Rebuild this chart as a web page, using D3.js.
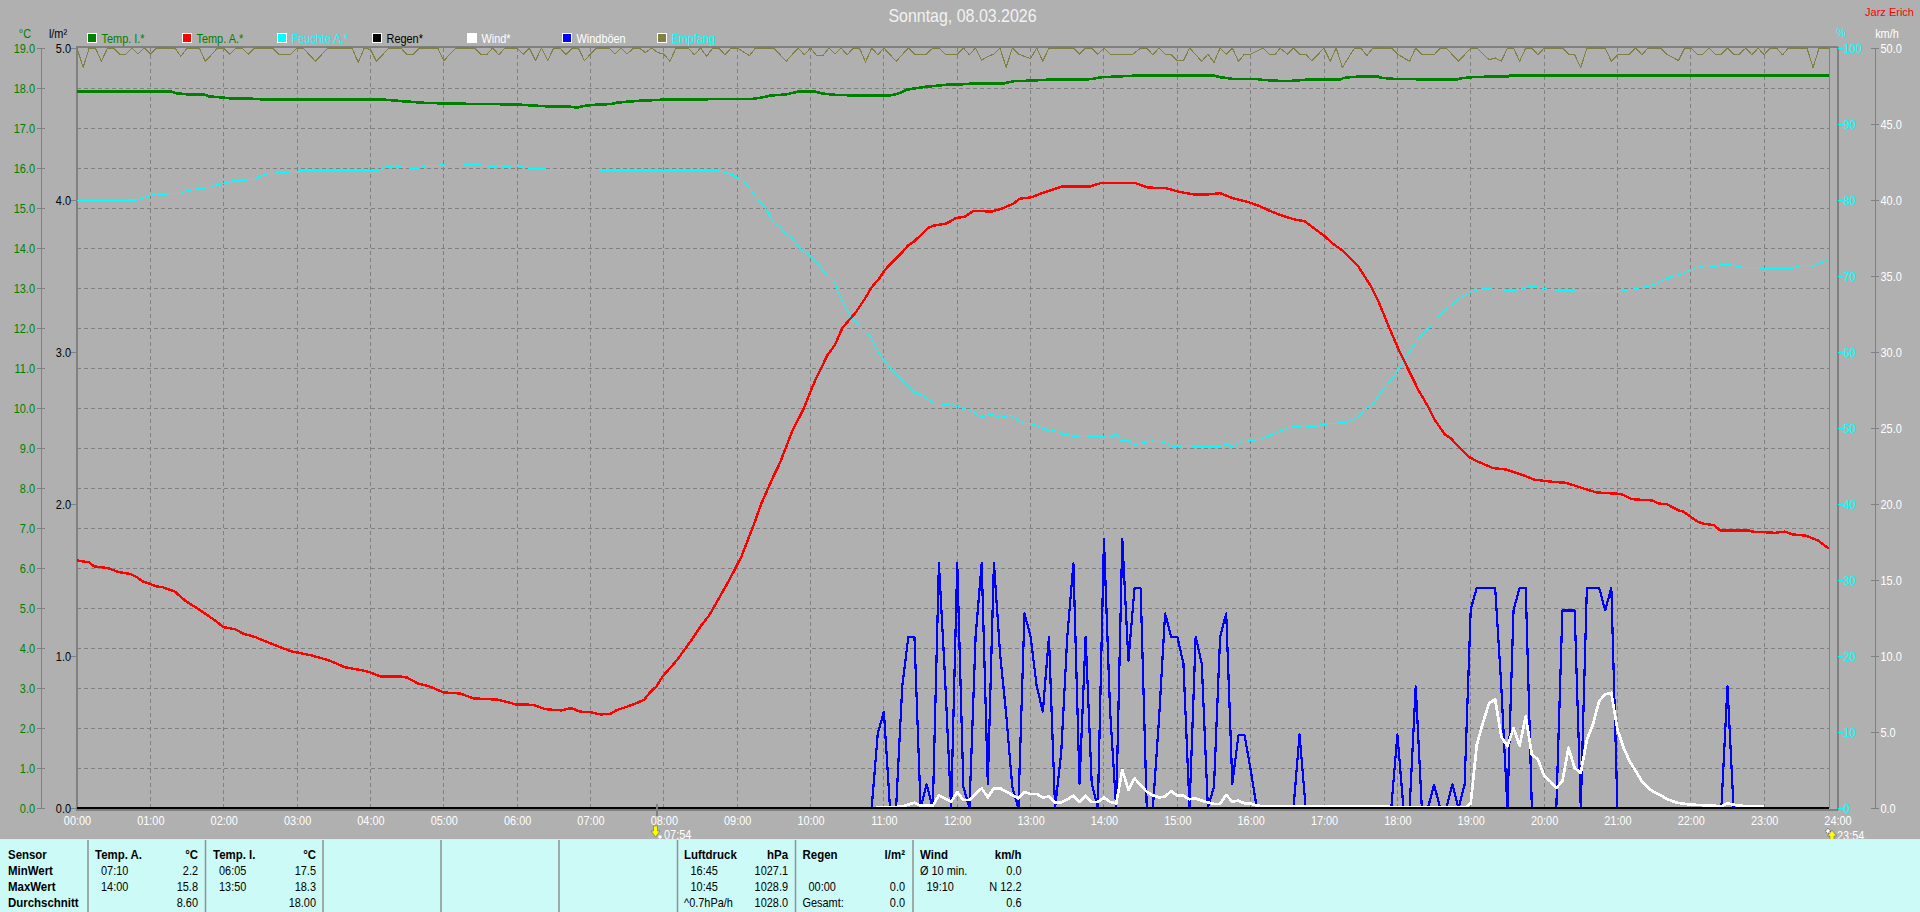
<!DOCTYPE html>
<html><head><meta charset="utf-8">
<script src="https://cdn.jsdelivr.net/npm/d3@7/dist/d3.min.js"></script>
<style>
html,body{margin:0;padding:0;background:#b0b0b0;overflow:hidden}
svg{display:block}
text{font-family:"Liberation Sans",Arial,sans-serif}
</style></head><body><script>
const title="Sonntag, 08.03.2026", author="Jarz Erich";
const legendNames=["Temp. I.*","Temp. A.*","Feuchte A.*","Regen*","Wind*","Windböen","Empfang"];
const legendSwatch=["#008000","#ff0000","#00ffff","#000000","#ffffff","#0000ff","#808040"];
const legendText=["#008000","#008000","#00ffff","#000000","#ffffff","#ffffff","#00ffff"];
const tempTicks=d3.range(0,20), rainTicks=[0,1,2,3,4,5], humTicks=d3.range(0,101,10), windTicks=d3.range(0,51,5), hourTicks=d3.range(0,1441,60);

const tempAT=[0,10,14,25,34,44,49,54,60,65,70,80,89,100,111,120,129,136,146,154,166,176,180,191,204,211,219,226,234,240,248,264,270,279,288,300,314,324,344,359,373,383,396,403,406,411,419,428,436,441,456,464,469,474,479,490,498,506,510,517,534,543.5,553.5,560,569,575,585,594,604,614,620,626,637,644,650,656,661,674,680,685,696,701,711,719,726,733.5,748,756,766,771,781,791,806,829,838,865,876,890,901,913,925,935,945,958,968,977,984,995,1004,1020,1027,1035,1048,1058,1065,1074,1081,1089,1097,1105,1110,1119,1123.5,1131,1139,1145,1158,1169,1182,1192,1208,1218,1231,1243,1263,1272,1288,1294,1300,1310,1314,1325,1330,1339,1344,1368,1370,1389,1397,1403,1414,1424,1433];
const tempAV=[6.19,6.14,6.04,6.0,5.9,5.85,5.77,5.66,5.6,5.54,5.52,5.41,5.17,4.96,4.73,4.52,4.47,4.36,4.27,4.17,4.02,3.91,3.89,3.82,3.71,3.63,3.52,3.48,3.44,3.39,3.29,3.29,3.26,3.11,3.04,2.89,2.86,2.74,2.71,2.59,2.58,2.47,2.44,2.49,2.48,2.41,2.4,2.34,2.35,2.44,2.6,2.71,2.9,3.04,3.29,3.67,4.0,4.35,4.54,4.81,5.725,6.29,7.08,7.63,8.25,8.63,9.42,9.96,10.71,11.33,11.58,12.0,12.39,12.71,13.02,13.23,13.46,13.86,14.07,14.17,14.5,14.56,14.61,14.75,14.78,14.93,14.91,14.98,15.11,15.23,15.27,15.39,15.54,15.54,15.63,15.63,15.51,15.5,15.41,15.34,15.34,15.37,15.25,15.15,15.04,14.91,14.83,14.72,14.67,14.31,14.11,13.94,13.54,13.06,12.63,11.96,11.46,10.96,10.46,10.04,9.73,9.33,9.25,9.0,8.77,8.67,8.5,8.46,8.33,8.21,8.15,8.13,8.0,7.89,7.85,7.72,7.69,7.61,7.6,7.44,7.41,7.17,7.11,7.07,6.94,6.94,6.91,6.88,6.91,6.84,6.81,6.69,6.48];

const tempIT=[0,76,81,91,104,108,116,126,144,146,251,266,284,304,359,374,386,404,409,416,424,437,441,451,460,480,553,560,567,580,590,604,610,620,640,664,671,679,694,711,729,731,759,766,776,796,829,838,846,866,930,935,945,965,967,982,994,1011,1034,1036,1041,1051,1064,1066,1076,1094,1096,1129,1131,1141,1151,1171,1172,1433];
const tempIV=[17.92,17.92,17.87,17.84,17.84,17.79,17.77,17.74,17.73,17.72,17.71,17.67,17.63,17.61,17.59,17.56,17.54,17.53,17.51,17.56,17.58,17.6,17.63,17.66,17.68,17.71,17.73,17.76,17.81,17.84,17.91,17.91,17.86,17.83,17.81,17.81,17.85,17.96,18.03,18.08,18.1,18.12,18.12,18.17,18.18,18.21,18.22,18.27,18.28,18.31,18.31,18.27,18.23,18.23,18.21,18.18,18.18,18.22,18.22,18.25,18.27,18.29,18.29,18.26,18.23,18.23,18.21,18.21,18.24,18.27,18.28,18.29,18.31,18.31];

const humT=[0,50,54,65,70,85,89,100,110,114,127,145,149,158,169,174,187,246,253,260,266,273,280,286,297,304,315,318,325,331,339,346,351,359,364,373,428,523.5,533.5,540,548,555,564,570,575,580,585,590,598,606,614,620,624,633,644,649,655.5,664,674,684,692,704,714,722.5,731,740,747,756,764,774,783,796,801,806,810,815,821,841,844,850,854,859,865,873,880,890,896,908,920,935,941,945,953,968,984,994,1004,1010,1020,1039,1049,1053.5,1060,1068,1077,1086,1094,1109,1120.5,1131,1142.5,1154,1160,1177,1187,1193,1205,1228,1263,1284,1293,1304,1313,1319,1332,1339,1344,1351,1363,1374,1379,1403,1411,1420,1433];
const humV=[79.96,80,80.3,80.8,80.75,80.9,81.2,81.5,81.67,81.97,82.5,82.7,83.1,83.5,83.6,83.7,83.9,83.9,84.4,84.5,84.3,84.2,84.2,84.5,84.6,84.8,84.8,84.6,84.7,84.6,84.4,84.5,84.35,84.56,84.35,84.1,83.95,83.9,83.5,83,82,80.5,78.7,76.9,76.5,75.5,75,73.8,72.9,71.6,69.9,69,67.4,64.6,62.7,62,60,58.1,56.5,54.8,54.2,52.9,53.2,52.7,52.3,51.4,51.8,51.4,51.7,50.6,50.5,49.5,49.8,49.1,49.2,48.8,49,48.85,48.7,49.2,48.3,48.4,47.8,48.1,48.3,48.1,47.5,47.7,47.5,47.6,47.9,47.5,48.2,48.5,49.6,50.2,50.3,50.1,50.5,50.75,51.6,52.5,53.1,55,56.7,59,61.1,63.8,65.7,67.1,68.1,68.4,68.2,68.1,68.55,68.6,68.2,68,68,68.6,69.1,69.9,70.3,70.8,71.4,71.2,71.5,71.5,71.1,71.1,71,71,71.4,71.3,72.2];

const rxT=[0,5,10,15,20,25,30,35,40,45,50,55,60,65,80,85,90,100,105,115,120,125,130,135,140,145,160,165,175,180,185,195,204,205,225,230,235,240,245,255,265,270,275,280,295,300,310,325,330,335,340,345,350,360,365,370,375,380,385,390,395,400,405,410,415,425,435,440,445,450,455,460,465,470,475,480,485,490,500,505,510,515,520,525,530,535,540,550,555,570,580,590,595,600,605,610,615,620,625,630,635,640,645,650,655,660,670,680,685,695,700,705,710,720,725,730,735,740,745,750,755,760,765,770,780,785,790,795,815,820,825,830,835,840,845,853,863,870,875,880,885,890,895,900,905,910,920,925,930,935,940,945,950,955,960,970,975,980,984,990,995,1000,1005,1010,1020,1025,1030,1035,1045,1050,1055,1060,1075,1080,1090,1095,1100,1110,1115,1120,1130,1140,1145,1155,1160,1165,1170,1175,1180,1185,1190,1195,1200,1215,1220,1225,1230,1235,1250,1255,1260,1270,1275,1280,1285,1295,1300,1310,1315,1320,1325,1330,1335,1340,1345,1350,1355,1360,1365,1370,1375,1380,1385,1390,1395,1400,1415,1420,1425,1433];
const rxV=[100,97.45,100,100,98.25,100,100,99.2,99.2,100,99.2,100,99.2,100,100,98.9,100,100,98.25,100,100,99.2,100,100,99.2,100,100,99.2,99.2,100,100,98.25,99.8,100,100,98.1,100,99.8,98.25,100,100,99.1,99.2,100,100,98.35,100,100,99.2,99.1,100,99.1,100,100,99.2,100,98.35,100,98.35,100,100,99.1,100,100,98.35,100,100,99.2,100,99.2,100,100,99.4,100,99.4,99.2,98.25,100,100,99.1,100,98.9,100,100,99.1,100,100,99,100,100,98.25,100,99.1,100,99,99,100,99.2,100,99.1,100,100,98.15,100,99.1,100,98.25,100,99.2,99.2,100,100,99.2,99.2,100,99.1,100,98.4,98.9,99.2,100,97.45,100,99.2,98.6,100,98.25,100,100,99.2,100,100,99.2,100,99.2,99.1,99.1,100,100,99.1,100,99.2,99.1,98.35,98.3,100,98.25,99.2,98.1,100,99.2,100,98.25,99.2,99.2,100,99.2,99.1,100,99.2,100,99.2,99.2,98.3,100,98.25,100,97.45,100,100,99,100,100,99.2,98.25,100,99.2,99.1,100,100,98.25,100,100,98.45,98.7,98.25,100,100,98.25,100,100,99.1,100,100,99.2,99.1,97.4,100,100,98.25,99.1,99.2,100,99.1,100,100,99.2,98.35,100,100,99.2,99.2,100,99.2,99.2,100,99.2,99.2,100,99.1,100,99.1,100,100,99.1,100,100,97.45,100,100];

const gustT=[650,655,660,665,670,675,680,685,690,695,700,705,710,715,720,725,730,735,740,745,750,755,760,765,770,775,780,785,790,795,800,805,810,815,820,825,830,835,840,845,850,855,860,865,870,875,880,885,890,895,900,905,910,915,920,925,930,935,940,945,950,955,960,965,995,1000,1005,1075,1080,1085,1090,1095,1100,1105,1110,1115,1120,1125,1130,1135,1140,1145,1160,1165,1170,1175,1180,1185,1190,1210,1215,1225,1230,1235,1245,1250,1255,1260,1345,1350,1355,1433];
const gustV=[0,4.9,6.34,0,0,8,11.27,11.27,0,1.56,0,16.1,8.6,0,16.1,1.4,0,11.27,16.1,1.6,16.1,10.2,6.2,1.4,0,12.8,11.27,8,6.34,11.27,0,3.6,11.27,16.1,1.6,11.27,1.6,0,17.7,6.4,0,17.7,9.7,14.45,14.45,0,0,5.8,12.8,11.27,11.27,9.5,0,11.27,9.5,0,1.4,11.27,12.8,1.6,4.8,4.8,2.5,0,0,4.84,0,0,4.84,0,0,8,0,0,1.54,0,0,1.54,0,1.54,13.07,14.5,14.5,8,0,13,14.5,14.5,0,0,13,13,0,14.5,14.5,13,14.5,0,0,8,0,0];

const windT=[650,667,675,685,690,700,705,715,720,725,730,740,745,750,755,770,775,780,785,790,795,800,805,815,820,825,830,835,840,845,850,855,860,865,870,875,880,885,890,895,900,905,910,915,920,930,935,940,945,950,955,960,965,980,990,1012,1136,1140,1145,1150,1155,1160,1165,1170,1175,1180,1185,1190,1195,1200,1205,1210,1215,1220,1225,1230,1235,1240,1245,1250,1255,1260,1265,1270,1275,1280,1285,1290,1295,1300,1305,1310,1320,1340,1345,1350,1360,1380];
const windV=[0,0.05,0.1,0.35,0.15,0.15,0.83,0.42,1.05,0.52,0.52,1.3,0.7,1.3,1.3,0.63,1.05,0.92,0.92,0.7,0.75,0.35,0.35,0.8,0.4,0.8,0.4,0.4,0.68,0.4,0.3,2.5,1.2,1.95,1.5,1.07,0.83,0.7,0.75,1.12,0.8,0.8,0.58,0.63,0.48,0.27,0.27,0.86,0.42,0.48,0.3,0.3,0.15,0.1,0.1,0.1,0.05,0.3,4.18,5.6,6.9,7.14,4.7,4.07,5.27,4.1,6.04,3.5,3.2,2.13,1.76,1.32,1.76,3.96,2.64,2.3,4.5,5.5,7.03,7.47,7.58,5.16,3.96,3.08,2.42,1.76,1.32,1.05,0.84,0.62,0.44,0.33,0.22,0.15,0.1,0.3,0.15,0.08];

const rainT=[0,1433], rainV=[0,0];

const tableHeaders=["Sensor","Temp. A.","°C","Temp. I.","°C","Luftdruck","hPa","Regen","l/m²","Wind","km/h"];
const rowNames=["MinWert","MaxWert","Durchschnitt"];
const colTempA=[["07:10","2.2"],["14:00","15.8"],["","8.60"]];
const colTempI=[["06:05","17.5"],["13:50","18.3"],["","18.00"]];
const colPress=[["16:45","1027.1"],["10:45","1028.9"],["^0.7hPa/h","1028.0"]];
const colRain=[["","" ],["00:00","0.0"],["Gesamt:","0.0"]];
const colWind=[["Ø 10 min.","0.0"],["19:10","N 12.2"],["","0.6"]];
const sunriseLabel="07:54", sunsetLabel="23:54";

const W=1920,H=912,L=77,R=1837.5,T=48,B=808;
const GRID="#808080", AX="#808080", BG="#b0b0b0", PANEL="#ccfbf7";
const x=d3.scaleLinear().domain([0,1440]).range([L,R]);
const yT=d3.scaleLinear().domain([0,19]).range([B,T]);
const yR=d3.scaleLinear().domain([0,5]).range([B,T]);
const yH=d3.scaleLinear().domain([0,100]).range([B,T]);
const yW=d3.scaleLinear().domain([0,50]).range([B,T]);
const svg=d3.select("body").append("svg").attr("width",W).attr("height",H).attr("viewBox",`0 0 ${W} ${H}`);
svg.append("rect").attr("width",W).attr("height",H).attr("fill",BG);

// grid
const grid=svg.append("g").attr("shape-rendering","crispEdges").attr("stroke",GRID).attr("stroke-dasharray","4,3");
grid.selectAll(".h").data(tempTicks.filter(d=>d>0&&d<19)).join("line").attr("x1",L).attr("x2",x(1433)+1).attr("y1",d=>yT(d)).attr("y2",d=>yT(d));
grid.selectAll(".v").data(hourTicks.filter(d=>d>0&&d<1440)).join("line").attr("x1",d=>x(d)).attr("x2",d=>x(d)).attr("y1",T).attr("y2",B);

// frame
const frame=svg.append("g").attr("shape-rendering","crispEdges").attr("stroke",AX);
frame.append("line").attr("x1",L-1).attr("x2",R).attr("y1",T-1).attr("y2",T-1).attr("stroke-width",2);
frame.append("line").attr("x1",L-0.5).attr("x2",L-0.5).attr("y1",T-1).attr("y2",B+2).attr("stroke-width",2);
frame.append("line").attr("x1",R).attr("x2",R).attr("y1",T-1).attr("y2",B+2).attr("stroke-width",2);
frame.append("line").attr("x1",x(1433)+1).attr("x2",x(1433)+1).attr("y1",T).attr("y2",B);
frame.append("line").attr("x1",L-1).attr("x2",R).attr("y1",B+1.5).attr("y2",B+1.5).attr("stroke-width",2);

function draw(ts,vs,scale,color,width){
  const pts=ts.map((t,i)=>[t,vs[i]]);
  svg.append("path").datum(pts).attr("fill","none").attr("stroke",color).attr("stroke-width",width)
    .attr("shape-rendering","crispEdges").attr("stroke-linejoin","round")
    .attr("d",d3.line().x(d=>x(d[0])).y(d=>scale(d[1])));
}
draw(rxT,rxV,yH,"#808040",1.1);
draw(humT,humV,yH,"#00ffff",1.1);
draw(tempIT,tempIV,yT,"#008000",2.6);
draw(tempAT,tempAV,yT,"#ff0000",2.4);
draw(gustT,gustV,yW,"#0000ff",2.2);
draw(windT,windV,yW,"#ffffff",2.7);
draw(rainT,rainV,yR,"#000000",2);

// axes
function styleAxis(g,color,lineColor,fs){
  g.selectAll("text").attr("fill",color).attr("font-size",fs).attr("font-family",'"Liberation Sans",Arial,sans-serif');
  g.selectAll("line").attr("stroke",lineColor).attr("shape-rendering","crispEdges");
  g.selectAll(".domain").attr("stroke",lineColor).attr("shape-rendering","crispEdges");
}
const f1=d3.format(".1f");
const gT=svg.append("g").attr("transform","translate(40.5,0)").call(d3.axisLeft(yT).tickValues(tempTicks).tickFormat(f1).tickSize(4).tickSizeOuter(0));
styleAxis(gT,"#008000",AX,13); gT.selectAll(".tick line").attr("x1",-4).attr("x2",4); gT.selectAll("text").attr("x",-5.5);
const gR=svg.append("g").attr("transform","translate(76,0)").call(d3.axisLeft(yR).tickValues(rainTicks).tickFormat(f1).tickSize(5).tickSizeOuter(0));
styleAxis(gR,"#000000",AX,13); gR.select(".domain").remove(); gR.selectAll("text").attr("x",-5);
const gH=svg.append("g").attr("transform",`translate(${R},0)`).call(d3.axisRight(yH).tickValues(humTicks).tickFormat(d3.format("d")).tickSize(5).tickSizeOuter(0));
styleAxis(gH,"#00ffff","#00ffff",13); gH.select(".domain").remove(); gH.selectAll("text").attr("x",6);
const gW=svg.append("g").attr("transform","translate(1874.5,0)").call(d3.axisRight(yW).tickValues(windTicks).tickFormat(f1).tickSize(4).tickSizeOuter(0));
styleAxis(gW,"#ffffff",AX,13); gW.selectAll(".tick line").attr("x1",-4).attr("x2",4); gW.selectAll("text").attr("x",6);
const gX=svg.append("g").attr("transform",`translate(0,${B})`).call(d3.axisBottom(x).tickValues(hourTicks).tickFormat(d=>d3.format("02d")(d/60)+":00").tickSize(0));
styleAxis(gX,"#ffffff",AX,13); gX.select(".domain").remove(); gX.selectAll("text").attr("y",8).attr("dy","0.71em");

// texts
const txt=(s,px,py,o={})=>svg.append("text").text(s).attr("x",px).attr("y",py).attr("dy","0.35em")
  .attr("fill",o.fill||"#000").attr("font-size",o.size||13).attr("text-anchor",o.anchor||"start").attr("font-weight",o.weight||"normal");
txt(title,962.5,15,{fill:"#f2f2f2",size:19,anchor:"middle"});
txt("°C",25,33,{fill:"#008000",anchor:"middle"});
txt("l/m²",58,33,{anchor:"middle"});
txt("%",1841,32,{fill:"#00ffff",anchor:"middle"});
txt("km/h",1887,33,{fill:"#fff",anchor:"middle"});

// legend
const legendX=d3.scalePoint().domain(legendNames).range([87,657]);
legendNames.forEach((n,i)=>{
  const lx=legendX(n);
  svg.append("rect").attr("x",lx+0.5).attr("y",33.5).attr("width",9).attr("height",9).attr("fill",legendSwatch[i]).attr("stroke","#fff").attr("shape-rendering","crispEdges");
  txt(n,lx+14.5,38,{fill:legendText[i]});
});

// sun markers
svg.append("line").attr("x1",657).attr("x2",657).attr("y1",804).attr("y2",816).attr("stroke",AX).attr("stroke-width",2);
svg.append("path").attr("d","M653.5 826h4v5h2.5l-4.5 6l-4.5 -6h2.5z").attr("fill","#ffff00").attr("stroke","#555").attr("stroke-width",0.5);
svg.append("circle").attr("cx",660).attr("cy",837).attr("r",1.8).attr("fill","#fff");
txt(sunriseLabel,664,834,{fill:"#fff"});
svg.append("path").attr("d","M1832 830l4.5 6h-2.5v5h-4v-5h-2.5z").attr("fill","#ffff00").attr("stroke","#555").attr("stroke-width",0.5);
svg.append("circle").attr("cx",1828).attr("cy",831).attr("r",2.2).attr("fill","#fff").attr("stroke","#334").attr("stroke-dasharray","1,1");
txt(sunsetLabel,1837,835,{fill:"#fff"});

// table
svg.append("rect").attr("x",0).attr("y",840).attr("width",W).attr("height",72).attr("fill",PANEL);
svg.append("line").attr("x1",0).attr("x2",W).attr("y1",839.5).attr("y2",839.5).attr("stroke","#e8e8e8").attr("shape-rendering","crispEdges");
const divs=[88,205.5,323,441,559,677.5,795.5,913];
svg.selectAll(".d").data(divs).join("line").attr("x1",d=>d).attr("x2",d=>d).attr("y1",840).attr("y2",912).attr("stroke","#909090").attr("stroke-width",1.5);
const rowsY=[854,870,886,902];
const B2={weight:"bold"};
txt(tableHeaders[0],8,rowsY[0],B2);
rowNames.forEach((n,i)=>txt(n,8,rowsY[i+1],B2));
function col(head,unit,hx,tx,rx,data){
  txt(head,hx,rowsY[0],B2);
  txt(unit,rx,rowsY[0],{...B2,anchor:"end"});
  data.forEach((r,i)=>{
    const lab=r[0]; const lx=(lab.startsWith("^")||lab.startsWith("Ø")||lab.startsWith("Gesamt"))?hx:tx;
    if(lab)txt(lab,lx,rowsY[i+1]);
    if(r[1])txt(r[1],rx,rowsY[i+1],{anchor:"end"});
  });
}
col(tableHeaders[1],tableHeaders[2],95,101,198,colTempA);
col(tableHeaders[3],tableHeaders[4],213,219,316,colTempI);
col(tableHeaders[5],tableHeaders[6],684,690.5,788,colPress);
col(tableHeaders[7],tableHeaders[8],802.5,808.5,905,colRain);
col(tableHeaders[9],tableHeaders[10],920,926.5,1021.5,colWind);

// the reference uses a condensed bitmap face: narrow every text to match
svg.selectAll("text").each(function(){
  const n=this.getComputedTextLength();
  const bold=this.getAttribute("font-weight")==="bold";
  this.setAttribute("textLength",(n*(bold?0.88:0.84)).toFixed(1));
  this.setAttribute("lengthAdjust","spacingAndGlyphs");
});
// author label sits by the right edge, drawn at its natural width
txt(author,1914,12,{fill:"#ff0000",size:11,anchor:"end"});
</script></body></html>
